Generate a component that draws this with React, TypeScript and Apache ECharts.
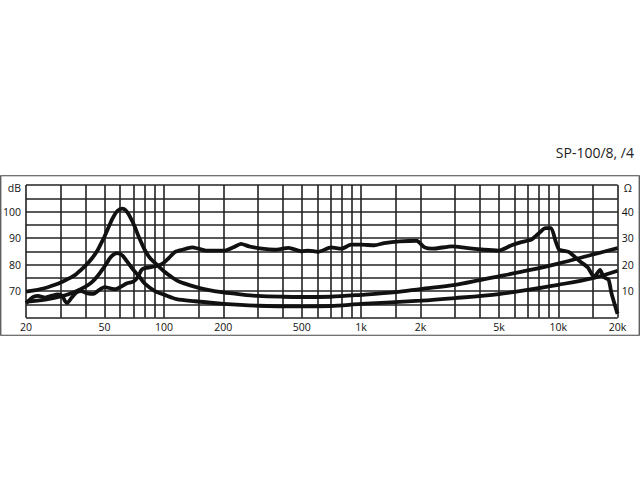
import { useRef, useEffect } from 'react'
import * as echarts from 'echarts'

// x axis: labelled frequencies and the log grid lines
const freqLabels = [20, 50, 100, 200, 500, 1000, 2000, 5000, 10000, 20000]
const gridFreqs = [
  20, 30, 40, 50, 60, 70, 80, 90, 100, 150, 200, 300, 400, 500, 600, 700, 800, 900,
  1000, 1500, 2000, 3000, 4000, 5000, 6000, 7000, 8000, 9000, 10000, 15000, 20000
]
const dbLabels = [70, 80, 90, 100]
const ohmLabels = [10, 20, 30, 40]

// impedance, 8 ohm version (right axis)
const impAFreq = [
  20, 22, 25, 28, 30, 33, 36, 40, 43, 46, 48, 50, 52, 55, 58, 61.5, 65, 70, 75, 80, 85, 92,
  100, 110, 120, 140, 160, 200, 250, 300, 400, 500, 700, 1000, 1500, 2000, 3000, 4000,
  5000, 7000, 10000, 15000, 20000
]
const impAOhm = [
  9.8, 10.3, 11.2, 12.4, 13.3, 14.8, 16.5, 19.6, 22.2, 25.3, 28, 30.6, 33.5, 37.5, 40.2, 41.1,
  39.9, 35.5, 30, 25.5, 22.5, 20, 17.5, 15.2, 13.5, 11.9, 10.8, 9.5, 8.7, 8.2, 7.9, 7.8, 7.9,
  8.6, 9.6, 10.8, 12.4, 14.2, 15.6, 17.8, 20.4, 23.8, 26.2
]

// impedance, 4 ohm version (right axis)
const impBFreq = [
  20, 25, 30, 35, 40, 43, 46, 50, 54, 58, 61.5, 65, 70, 75, 80, 90, 100, 116, 144, 200, 300,
  500, 700, 1000, 2000, 3000, 5000, 7000, 10000, 15000, 20000
]
const impBOhm = [
  6, 6.8, 8, 9.6, 11.7, 13.3, 15.6, 19.3, 23, 24.3, 23.5, 21.2, 18, 15.5, 12.8, 10, 8.7, 7,
  6.2, 5.2, 4.5, 4.3, 4.4, 5.2, 6.4, 7.4, 8.9, 10.5, 12.4, 14.9, 17.7
]

// frequency response (left axis, dB)
const respFreq = [
  20, 21, 22, 23, 25, 27, 29, 30.5, 31.5, 32.3, 34, 36, 38, 41, 44, 47, 50, 54, 57, 60, 65, 70,
  74, 77, 80, 90, 98, 106, 114, 124, 139, 150, 163, 182, 204, 225, 246, 270, 314, 364, 429,
  500, 540, 605, 705, 795, 890, 1000, 1170, 1310, 1570, 1910, 2100, 2300, 2900, 3400, 4200,
  5000, 5800, 6500, 7300, 8000, 8600, 9200, 9700, 10100, 10500, 11300, 12100, 13000, 14100,
  15200, 15800, 16300, 17000, 18000, 18600, 19800, 20000
]
const respDb = [
  65.5, 67, 68, 68.2, 67.6, 68.3, 68.8, 68.2, 66.3, 65.5, 67.5, 69.5, 70, 69.2, 69, 70.5, 71.5,
  71, 70.8, 71.5, 73, 73.6, 75.5, 78, 78.7, 79.3, 80.3, 82.5, 84.8, 85.6, 86.5, 86, 85.3, 85.3,
  85.3, 86.5, 87.8, 86.9, 86, 85.6, 86.3, 85, 85.3, 84.8, 86.5, 86, 87.5, 87.5, 87.3, 88.1,
  88.75, 89, 86.5, 86, 86.9, 86.3, 85.6, 85.3, 87.3, 88.5, 89.4, 91.9, 93.75, 93.75, 88.75,
  85.6, 85.3, 84.8, 83, 81, 79, 75.3, 76.9, 78, 75.3, 74.3, 69.3, 62.4, 61.5
]

const FONT = 'Open Sans'
const INK = '#111'

const fmtFreq = (v: number) => (v >= 1000 ? `${Math.round(v / 1000)}k` : `${Math.round(v)}`)

const pairs = (xs: number[], ys: number[]) => xs.map((x, i) => [x, ys[i]])

export default function App() {
  const chartRef = useRef<HTMLDivElement>(null)

  useEffect(() => {
    if (!chartRef.current) return
    const chart = echarts.init(chartRef.current, undefined, { renderer: 'svg' })

    const curve = {
      type: 'line',
      showSymbol: false,
      symbol: 'none',
      lineStyle: { color: INK, width: 3.8 },
      z: 5
    }

    chart.setOption({
      animation: false,
      backgroundColor: '#fff',
      textStyle: { fontFamily: FONT },
      title: {
        text: 'SP-100/8, /4',
        right: 1,
        top: 140,
        textStyle: { fontFamily: FONT, fontSize: 14, fontWeight: 'normal', color: '#222' }
      },
      graphic: [
        {
          type: 'rect',
          shape: { x: 0.75, y: 175.75, width: 638.5, height: 159.5 },
          style: { fill: 'none', stroke: '#444', lineWidth: 1.2 },
          silent: true
        }
      ],
      grid: { left: 23.3, right: 22.3, top: 185, bottom: 162.3 },
      xAxis: {
        type: 'log',
        logBase: 10,
        min: 19.98,
        max: 20020,
        axisLine: { show: false },
        axisTick: { show: false },
        splitLine: { show: false },
        axisLabel: {
          customValues: freqLabels,
          formatter: (v: number) => fmtFreq(v),
          margin: 4,
          fontSize: 10.5,
          color: INK,
          fontFamily: FONT
        }
      },
      yAxis: [
        {
          type: 'value',
          min: 60,
          max: 110,
          interval: 5,
          axisLine: { show: false },
          axisTick: { show: false },
          splitLine: { show: true, lineStyle: { color: '#222', width: 1.6 } },
          axisLabel: {
            margin: 5,
            fontSize: 10.5,
            color: INK,
            fontFamily: FONT,
            formatter: (v: number) =>
              v === 110 ? '{u|dB}' : dbLabels.includes(v) ? `${v}` : '',
            rich: { u: { fontSize: 10.5, fontFamily: FONT, color: INK, padding: [6, 0, 0, 0] } }
          }
        },
        {
          type: 'value',
          min: 0,
          max: 50,
          interval: 5,
          position: 'right',
          axisLine: { show: false },
          axisTick: { show: false },
          splitLine: { show: false },
          axisLabel: {
            margin: 4,
            fontSize: 10.5,
            color: INK,
            fontFamily: FONT,
            formatter: (v: number) =>
              v === 50 ? '{u|Ω}' : ohmLabels.includes(v) ? `${v}` : '',
            rich: { u: { fontSize: 10.5, fontFamily: FONT, color: INK, padding: [6, 0, 0, 2] } }
          }
        }
      ],
      series: [
        {
          type: 'line',
          data: [],
          silent: true,
          markLine: {
            silent: true,
            symbol: 'none',
            label: { show: false },
            lineStyle: { color: '#222', width: 1.6, type: 'solid' },
            data: gridFreqs.map((f) => ({ xAxis: f }))
          }
        },
        { ...curve, name: 'Z 8', yAxisIndex: 1, smooth: 0.3, data: pairs(impAFreq, impAOhm) },
        { ...curve, name: 'Z 4', yAxisIndex: 1, smooth: 0.3, data: pairs(impBFreq, impBOhm) },
        { ...curve, name: 'SPL', yAxisIndex: 0, smooth: 0.2, data: pairs(respFreq, respDb) }
      ]
    })

    return () => chart.dispose()
  }, [])

  return (
    <div
      ref={chartRef}
      style={{ position: 'fixed', left: 0, top: 0, width: 640, height: 480 }}
    />
  )
}
